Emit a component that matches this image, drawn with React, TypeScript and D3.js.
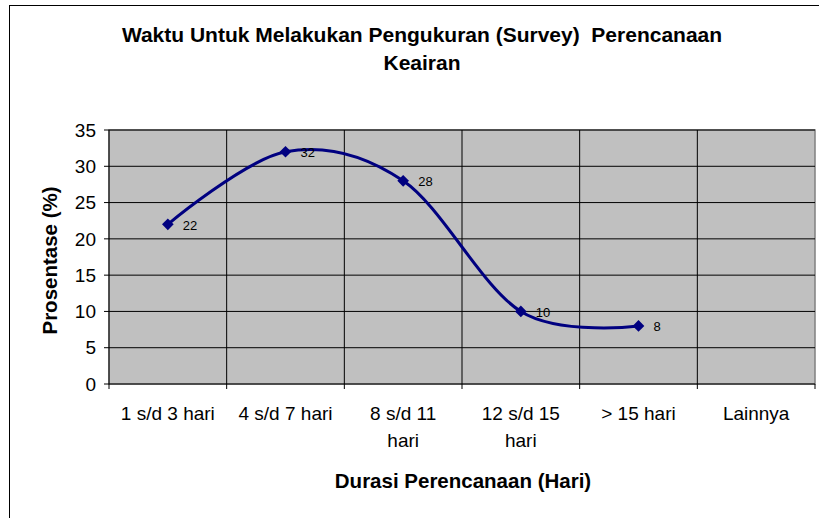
import React from 'react';
import * as d3 from 'd3';

const categories = ['1 s/d 3 hari', '4 s/d 7 hari', '8 s/d 11 hari', '12 s/d 15 hari', '> 15 hari', 'Lainnya'];
const values: (number | null)[] = [22, 32, 28, 10, 8, null];
const yTicks = [0, 5, 10, 15, 20, 25, 30, 35];

const titleLines = ['Waktu Untuk Melakukan Pengukuran (Survey)  Perencanaan', 'Keairan'];
const xTitle = 'Durasi Perencanaan (Hari)';
const yTitle = 'Prosentase (%)';

const font = '"Liberation Sans", Arial, sans-serif';

// long labels wrap their last word onto a second line, like Excel does
const wrap = (s: string) => {
  if (s.length <= 12) return [s];
  const i = s.lastIndexOf(' ');
  return [s.slice(0, i), s.slice(i + 1)];
};

const App = () => {
  const W = 819;
  const H = 518;
  const plot = {left: 109, right: 815, top: 130, bottom: 384};

  const x = d3.scaleBand<string>().domain(categories).range([plot.left, plot.right]);
  const y = d3.scaleLinear().domain([0, 35]).range([plot.bottom, plot.top]);
  const cx = (c: string) => (x(c) ?? 0) + x.bandwidth() / 2;

  const pts = categories.map((c, i) => ({c, v: values[i]}));
  const line = d3
    .line<{c: string; v: number | null}>()
    .defined(d => d.v != null)
    .x(d => cx(d.c))
    .y(d => y(d.v as number))
    .curve(d3.curveCardinal.tension(0));

  const diamond = d3.symbol(d3.symbolSquare, 68)();
  const bounds = [...categories.map(c => x(c) ?? 0), plot.right];

  return (
    <svg width={W} height={H} style={{position: 'absolute', left: 0, top: 0, fontFamily: font}}>
      <rect x={0} y={0} width={W} height={H} fill="#fff" />
      <rect x={9.5} y={5.5} width={1000} height={1000} fill="none" stroke="#000" />

      {/* plot area */}
      <rect
        x={plot.left}
        y={plot.top}
        width={plot.right - plot.left}
        height={plot.bottom - plot.top}
        fill="#c0c0c0"
        stroke="#808080"
        strokeWidth={1.5}
      />
      {yTicks.slice(1).map(t => (
        <line key={t} x1={plot.left} x2={plot.right} y1={y(t)} y2={y(t)} stroke="#000" strokeWidth={1} />
      ))}
      {bounds.slice(1, -1).map((b, i) => (
        <line key={i} x1={b} x2={b} y1={plot.top} y2={plot.bottom} stroke="#000" strokeWidth={1} />
      ))}

      {/* axes */}
      <line x1={plot.left} x2={plot.left} y1={plot.top} y2={plot.bottom} stroke="#000" />
      <line x1={plot.left} x2={plot.right} y1={plot.bottom} y2={plot.bottom} stroke="#000" />
      {yTicks.map(t => (
        <g key={t}>
          <line x1={plot.left - 5} x2={plot.left} y1={y(t)} y2={y(t)} stroke="#000" />
          <text x={96} y={y(t)} dy="0.35em" textAnchor="end" fontSize={19} fill="#000">
            {t}
          </text>
        </g>
      ))}
      {bounds.map((b, i) => (
        <line key={i} x1={b} x2={b} y1={plot.bottom} y2={plot.bottom + 5} stroke="#000" />
      ))}
      {categories.map(c => (
        <text key={c} x={cx(c)} y={420} textAnchor="middle" fontSize={19} fill="#000">
          {wrap(c).map((s, j) => (
            <tspan key={j} x={cx(c)} dy={j === 0 ? 0 : 27}>
              {s}
            </tspan>
          ))}
        </text>
      ))}

      {/* series */}
      <path d={line(pts) ?? ''} fill="none" stroke="#000080" strokeWidth={3} strokeLinejoin="round" />
      {pts
        .filter(d => d.v != null)
        .map(d => (
          <g key={d.c}>
            <path d={diamond ?? ''} transform={`translate(${cx(d.c)},${y(d.v as number)}) rotate(45)`} fill="#000080" />
            <text x={cx(d.c) + 15} y={y(d.v as number) + 5.5} fontSize={13} fill="#000">
              {d.v}
            </text>
          </g>
        ))}

      {/* titles */}
      {titleLines.map((s, i) => (
        <text
          key={i}
          x={422}
          y={42 + i * 27.5}
          textAnchor="middle"
          fontSize={21}
          fontWeight="bold"
          fill="#000"
          style={{whiteSpace: 'pre'}}
        >
          {s}
        </text>
      ))}
      <text x={463} y={488} textAnchor="middle" fontSize={20.5} fontWeight="bold" fill="#000">
        {xTitle}
      </text>
      <text
        transform="translate(57,260.5) rotate(-90)"
        textAnchor="middle"
        fontSize={20.5}
        fontWeight="bold"
        fill="#000"
      >
        {yTitle}
      </text>
    </svg>
  );
};

export default App;
